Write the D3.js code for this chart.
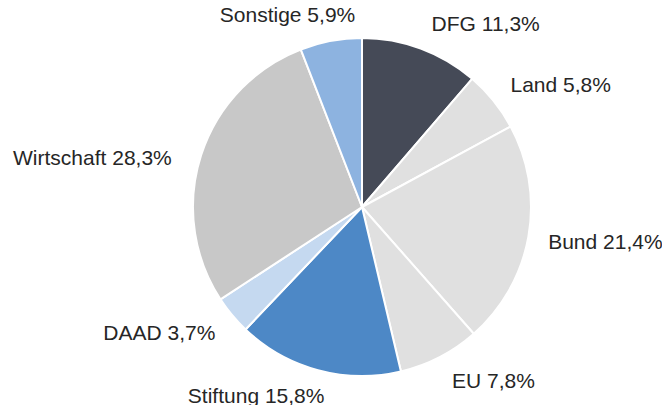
<!DOCTYPE html>
<html>
<head>
<meta charset="utf-8">
<script src="https://cdn.jsdelivr.net/npm/d3@7"></script>
<style>
  body { margin: 0; background: #fff; }
  text { font-family: "Liberation Sans", Arial, sans-serif; }
</style>
</head>
<body>
<div id="chart"></div>
<script>
// Data
const categories = ["DFG", "Land", "Bund", "EU", "Stiftung", "DAAD", "Wirtschaft", "Sonstige"];
const shares = [11.3, 5.8, 21.4, 7.8, 15.8, 3.7, 28.3, 5.9];
const colors = ["#454a57", "#e0e0e0", "#e0e0e0", "#e0e0e0", "#4d88c6", "#c5d9f0", "#c8c8c8", "#8db3e0"];

const w = 662;
const h = 405;
const cx = 362;
const cy = 207;
const radius = 169;
const fontSize = 21;

const data = categories.map((c, i) => ({ name: c, value: shares[i], color: colors[i] }));

const svg = d3.select("#chart")
  .append("svg")
  .attr("width", w)
  .attr("height", h);

const g = svg.append("g")
  .attr("transform", `translate(${cx}, ${cy})`);

const pie = d3.pie().sort(null).value((d) => d.value);
const arc = d3.arc().innerRadius(0).outerRadius(radius);

const arcs = pie(data);

// Slices
g.selectAll("path")
  .data(arcs)
  .enter()
  .append("path")
  .attr("d", arc)
  .attr("fill", (d) => d.data.color)
  .attr("stroke", "#fff")
  .attr("stroke-width", 2)
  .attr("stroke-linejoin", "round");

// Labels, placed just outside the rim like Excel does
const labelR = radius + 14;
const fmt = (v) => v.toFixed(1).replace(".", ",") + "%";

g.selectAll("text.label")
  .data(arcs)
  .enter()
  .append("text")
  .attr("class", "label")
  .style("font-size", fontSize + "px")
  .style("fill", "#262626")
  .text((d) => `${d.data.name} ${fmt(d.data.value)}`)
  .each(function (d) {
    const t = d3.select(this);
    const tw = this.getComputedTextLength();
    const a = (d.startAngle + d.endAngle) / 2;
    const px = labelR * Math.sin(a);
    const py = -labelR * Math.cos(a);
    const k = Math.max(-1, Math.min(1, Math.sin(a) * 3));
    let boxCx = px + (tw / 2) * k + 6 * k;
    let boxCy = py - (fontSize * 0.6) * Math.cos(a);
    // the wide label on the far left sits a bit lower and further out
    if (Math.sin(a) < -0.9) {
      boxCx -= 10;
      boxCy += 10;
    }
    t.attr("x", boxCx)
      .attr("y", boxCy + fontSize * 0.35)
      .attr("text-anchor", "middle");
  });
</script>
</body>
</html>
